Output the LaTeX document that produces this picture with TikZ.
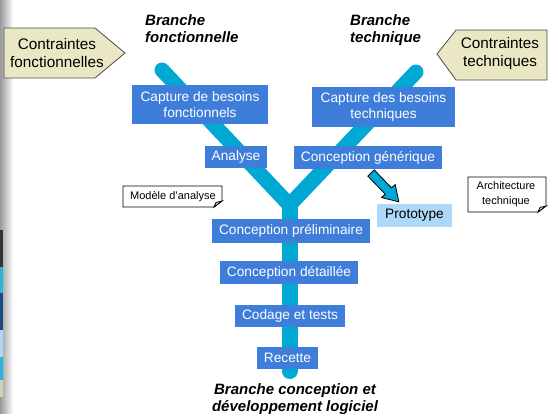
\documentclass[tikz,border=0pt]{standalone}
\usepackage{fontspec}
\setmainfont{Liberation Sans}
\definecolor{boxblue}{RGB}{62,125,217}
\definecolor{protoblue}{RGB}{173,216,247}
\definecolor{ycyan}{RGB}{0,169,212}
\definecolor{beige}{RGB}{234,231,196}
\definecolor{edgedark}{RGB}{50,50,50}
\definecolor{edgeblue}{RGB}{30,75,130}
\begin{document}
\begin{tikzpicture}[x=1pt,y=-1pt,
  stepbox/.style={fill=boxblue, text=white, font=\fontsize{13.7}{16}\selectfont, inner sep=0pt, align=center},
  protobox/.style={fill=protoblue, text=black, font=\fontsize{13.7}{16}\selectfont, inner sep=0pt},
  branchlbl/.style={font=\fontsize{15}{17}\selectfont\bfseries\itshape, inner sep=0pt},
  constr/.style={fill=beige, draw=black!70, line width=0.8pt},
  constrtxt/.style={font=\fontsize{15.3}{18}\selectfont, align=center, inner sep=0pt},
  notebox/.style={fill=white, draw=black, line width=0.8pt},
  notetxt/.style={font=\fontsize{11}{15}\selectfont, align=center, inner sep=0pt},
  ybranch/.style={draw=ycyan, line width=15pt, line cap=round, line join=round},
  blockarrow/.style={fill=ycyan, draw=black, line width=0.8pt, line join=miter}]
\useasboundingbox (0,0) rectangle (548,414);
% left edge strip
\shade[left color=black!40, right color=white] (0,0) rectangle (13,414);
\fill[edgedark] (0,230) rectangle (3,267);
\fill[ycyan!85] (0,267) rectangle (3,293);
\fill[edgeblue] (0,293) rectangle (3,330);
\fill[protoblue] (0,330) rectangle (3,357);
\fill[ycyan!85] (0,357) rectangle (3,380);
\fill[beige!90!black] (0,380) rectangle (3,397);

% Y shape
\coordinate (ltop) at (162,70);
\coordinate (rtop) at (416,72);
\coordinate (junc) at (289.5,205);
\coordinate (sbot) at (289.5,371);
\draw[ybranch] (ltop) -- (junc) -- (rtop);
\draw[ybranch, line width=16pt] (junc) -- (sbot);

% branch labels
\node[branchlbl, anchor=north west, align=left] (bf) at (145,14.5) {Branche\\fonctionnelle};
\node[branchlbl, anchor=north west, align=left] (bt) at (350,14.5) {Branche\\technique};
\node[branchlbl, align=center] (bc) at (295,399) {Branche conception et\\développement logiciel};

% constraints
\draw[constr] (4,28) -- (95,28) -- (125,53) -- (95,78) -- (4,78) -- cycle;
\node[constrtxt] (cf) at (57,53) {Contraintes\\fonctionnelles};
\draw[constr] (547,30) -- (456,30) -- (437,54) -- (456,80) -- (547,80) -- cycle;
\node[constrtxt] (ctq) at (500,54) {Contraintes\\techniques};

% step boxes
\node[stepbox, minimum width=136pt, minimum height=39pt] (cbf) at (200,104.5) {Capture de besoins\\fonctionnels};
\node[stepbox, minimum width=62pt, minimum height=22pt] (ana) at (236,157) {Analyse};
\node[stepbox, minimum width=143pt, minimum height=40pt] (cbt) at (383.5,107) {Capture des besoins\\techniques};
\node[stepbox, minimum width=148pt, minimum height=23pt] (cg) at (368,157.5) {Conception générique};
\node[stepbox, minimum width=158pt, minimum height=24pt] (cp) at (291,231) {Conception préliminaire};
\node[stepbox, minimum width=138pt, minimum height=23pt] (cd) at (289,272.5) {Conception détaillée};
\node[stepbox, minimum width=110pt, minimum height=22pt] (ct) at (290,316) {Codage et tests};
\node[stepbox, minimum width=61pt, minimum height=22pt] (rec) at (287.5,358) {Recette};
\node[protobox, minimum width=75pt, minimum height=23pt] (proto) at (414.5,215.5) {Prototype};

% block arrow
\draw[blockarrow] (374.2,169.9) -- (391.6,187.9) -- (395.2,184.4) -- (398.8,201.8)
  -- (381.6,197.6) -- (385.2,194.1) -- (367.8,176.1) -- cycle;

% notes
\draw[notebox] (123,186) -- (222,186) -- (222,201) -- (214,207) -- (123,207) -- cycle;
\draw[notebox, fill=black!15] (214,207) -- (216,202.5) -- (222,201) -- cycle;
\node[notetxt] (ma) at (173,196.5) {Modèle d’analyse};
\draw[notebox] (468,177) -- (546,177) -- (546,206) -- (538,212) -- (468,212) -- cycle;
\draw[notebox, fill=black!15] (538,212) -- (540,207.5) -- (546,206) -- cycle;
\node[notetxt] (at) at (506,194) {Architecture\\technique};
\end{tikzpicture}
\end{document}
